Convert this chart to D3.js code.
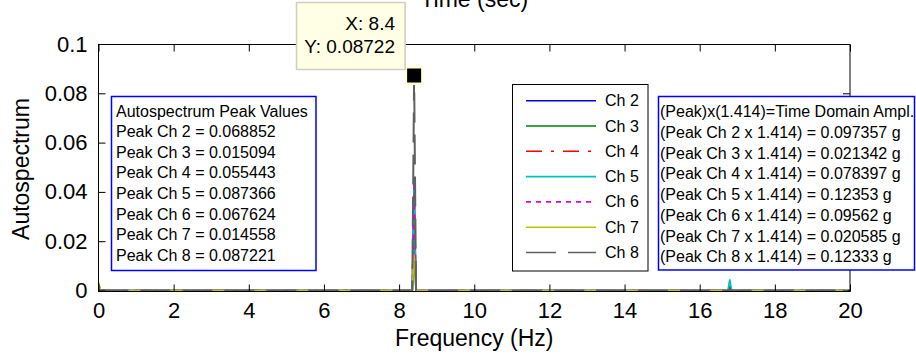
<!DOCTYPE html>
<html><head><meta charset="utf-8">
<script src="https://cdn.jsdelivr.net/npm/d3@7/dist/d3.min.js"></script>
<style>
body{margin:0;background:#fff;}
svg text{font-family:"Liberation Sans",Arial,Helvetica,sans-serif;fill:#000;}
</style>
</head><body>
<svg id="chart" width="916" height="354"></svg>
<script>
// ---- data ----
const channels = ["Ch 2","Ch 3","Ch 4","Ch 5","Ch 6","Ch 7","Ch 8"];
const freqs = [0, 0.05, 0.1, 8.35, 8.4, 8.45, 16.75, 16.8, 16.85, 20];
const ch2 = [0.0005, 0.0002, 0, 0, 0.0435, 0, 0, 0.0008, 0, 0];
const ch3 = [0.0004, 0.0001, 0, 0, 0.0150, 0, 0, 0.0015, 0, 0];
const ch4 = [0.0006, 0.0001, 0, 0, 0.0350, 0, 0, 0.0005, 0, 0];
const ch5 = [0.0004, 0.0001, 0, 0, 0.0425, 0, 0, 0.0045, 0, 0];
const ch6 = [0.0030, 0.0003, 0, 0, 0.0440, 0, 0, 0.0006, 0, 0];
const ch7 = [0.0035, 0.0002, 0, 0, 0.0145, 0, 0, 0.0003, 0, 0];
const ch8 = [0.0003, 0, 0, 0, 0.08722, 0, 0, 0.0004, 0, 0];
const xTicks = [0,2,4,6,8,10,12,14,16,18,20];
const xTickLabels = ["0","2","4","6","8","10","12","14","16","18","20"];
const yTicks = [0,0.02,0.04,0.06,0.08,0.1];
const yTickLabels = ["0","0.02","0.04","0.06","0.08","0.1"];
const peakBoxLines = ["Autospectrum Peak Values","Peak Ch 2 = 0.068852","Peak Ch 3 = 0.015094","Peak Ch 4 = 0.055443","Peak Ch 5 = 0.087366","Peak Ch 6 = 0.067624","Peak Ch 7 = 0.014558","Peak Ch 8 = 0.087221"];
const ampBoxLines = ["(Peak)x(1.414)=Time Domain Ampl.","(Peak Ch 2 x 1.414) = 0.097357 g","(Peak Ch 3 x 1.414) = 0.021342 g","(Peak Ch 4 x 1.414) = 0.078397 g","(Peak Ch 5 x 1.414) = 0.12353 g","(Peak Ch 6 x 1.414) = 0.09562 g","(Peak Ch 7 x 1.414) = 0.020585 g","(Peak Ch 8 x 1.414) = 0.12333 g"];
const tipX = 8.4, tipY = 0.08722;
const tipLines = ["X: 8.4","Y: 0.08722"];

// ---- styles ----
const seriesValues = [ch2,ch3,ch4,ch5,ch6,ch7,ch8];
const colors = ["#0000ff","#008000","#ff0000","#00bfbf","#e000e0","#bfbf00","#606060"];
const dashes = [null,null,"16,9,3,9",null,"5,5",null,"30,12"];

const svg = d3.select("#chart");
const x = d3.scaleLinear().domain([0,20]).range([98.5,850]);
const y = d3.scaleLinear().domain([0,0.1]).range([290.5,44]);

// title (partly cut at top)
svg.append("text").attr("x",(x(0)+x(20))/2).attr("y",7).attr("text-anchor","middle")
  .style("font-size","23px").text("Time (sec)");

// series
const line = d3.line().x(d=>x(d[0])).y(d=>y(d[1]));
seriesValues.forEach((vals,i)=>{
  svg.append("path").datum(freqs.map((f,j)=>[f,vals[j]]))
    .attr("d",line).attr("fill","none").attr("stroke",colors[i])
    .attr("stroke-width",i===6?2:1.6)
    .attr("stroke-dasharray",dashes[i]);
});

// frame
svg.append("rect").attr("x",x(0)).attr("y",44.5).attr("width",x(20)-x(0)).attr("height",291.5-44.5)
  .attr("fill","none").attr("stroke","#000").attr("stroke-width",1);

// axes
const fmtX = (d,i)=>xTickLabels[i];
const fmtY = (d,i)=>yTickLabels[i];
const gx = svg.append("g").attr("transform","translate(0,291.5)")
  .call(d3.axisBottom(x).tickValues(xTicks).tickFormat(fmtX).tickSize(-7).tickPadding(11));
const gxt = svg.append("g").attr("transform","translate(0,44.5)")
  .call(d3.axisTop(x).tickValues(xTicks).tickFormat("").tickSize(-7));
const gy = svg.append("g").attr("transform","translate(98.5,0)")
  .call(d3.axisLeft(y).tickValues(yTicks).tickFormat(fmtY).tickSize(-7).tickPadding(11));
const gyr = svg.append("g").attr("transform","translate(850,0)")
  .call(d3.axisRight(y).tickValues(yTicks).tickFormat("").tickSize(-7));
[gx,gxt,gy,gyr].forEach(g=>{
  g.select(".domain").remove();
  g.selectAll(".tick line").attr("stroke","#000");
  g.selectAll("text").style("font-size","22px").attr("fill","#000").style("font-family","'Liberation Sans',Arial,sans-serif");
});

// axis labels
svg.append("text").attr("x",(x(0)+x(20))/2).attr("y",346).attr("text-anchor","middle")
  .style("font-size","23px").text("Frequency (Hz)");
svg.append("text").attr("transform","translate(29,169) rotate(-90)").attr("text-anchor","middle")
  .style("font-size","23px").text("Autospectrum");

// left text box
const lb = svg.append("g");
lb.append("rect").attr("x",111.5).attr("y",96.5).attr("width",204.5).attr("height",174)
  .attr("fill","#fff").attr("stroke","#0000ff").attr("stroke-width",1.5);
peakBoxLines.forEach((t,i)=>{
  lb.append("text").attr("x",116).attr("y",116.5+i*20.6).style("font-size","16px").text(t);
});

// legend box
const lg = svg.append("g");
lg.append("rect").attr("x",512.5).attr("y",84.5).attr("width",135.5).attr("height",186.5)
  .attr("fill","#fff").attr("stroke","#000").attr("stroke-width",1);
channels.forEach((c,i)=>{
  const cy = 100.7 + i*25.3;
  lg.append("line").attr("x1",526).attr("x2",596).attr("y1",cy).attr("y2",cy)
    .attr("stroke",colors[i]).attr("stroke-width",1.6).attr("stroke-dasharray",dashes[i]);
  lg.append("text").attr("x",605).attr("y",cy+5.5).style("font-size","16px").text(c);
});

// right text box
const rb = svg.append("g");
rb.append("rect").attr("x",658.5).attr("y",96.5).attr("width",256).attr("height",173.5)
  .attr("fill","#fff").attr("stroke","#0000ff").attr("stroke-width",1.5);
ampBoxLines.forEach((t,i)=>{
  rb.append("text").attr("x",660).attr("y",117.3+i*20.7).style("font-size","16px").text(t);
});

// data tip
const px = x(tipX), py = y(tipY);
svg.append("rect").attr("x",px-9.5).attr("y",py-9.5).attr("width",19).attr("height",19).attr("fill","#ffffd0");
svg.append("rect").attr("x",px-7).attr("y",py-7).attr("width",14).attr("height",14).attr("fill","#000");
const tip = svg.append("g");
tip.append("rect").attr("x",296.5).attr("y",2.5).attr("width",px-9-296.5).attr("height",py-6-2.5)
  .attr("fill","#ffffe6").attr("stroke","#cfcfbf").attr("stroke-width",1.5);
tipLines.forEach((t,i)=>{
  tip.append("text").attr("x",395).attr("y",30+i*23.3).attr("text-anchor","end")
    .style("font-size","19px").text(t);
});
</script>
</body></html>
